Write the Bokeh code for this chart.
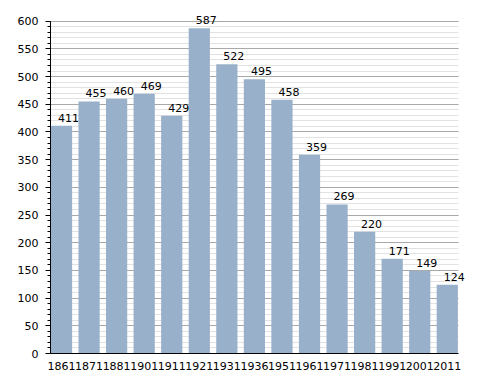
from bokeh.plotting import figure
from bokeh.models import ColumnDataSource, Range1d, FixedTicker, LabelSet, SingleIntervalTicker, Grid
from bokeh.core.properties import value
from bokeh.embed import file_html
from bokeh.resources import INLINE

years = ["1861", "1871", "1881", "1901", "1911", "1921", "1931", "1936",
         "1951", "1961", "1971", "1981", "1991", "2001", "2011"]
population = [411, 455, 460, 469, 429, 587, 522, 495, 458, 359, 269, 220, 171, 149, 124]

idx = list(range(len(years)))
src = ColumnDataSource(dict(x=idx, top=population, label=[str(v) for v in population]))

has_cb = "cross_bounds" in Grid.properties()
x_lo, x_hi = -0.4, len(years) - 0.6
x_end = x_hi + 0.37 if has_cb else x_hi

p = figure(width=488, height=373, output_backend="svg", toolbar_location=None,
           x_range=Range1d(x_lo, x_end), y_range=Range1d(0, 612),
           min_border_left=50, min_border_right=20 if has_cb else 30,
           min_border_top=14, min_border_bottom=20)
p.outline_line_color = None
p.background_fill_color = "white"
p.border_fill_color = "white"

p.vbar(x="x", top="top", width=0.77, source=src, color="#98b0c9", line_color=None)

labels = LabelSet(x="x", y="top", text="label", source=src, text_align="center",
                  text_baseline="bottom", x_offset=7 if has_cb else 1, y_offset=4,
                  text_font=value("DejaVu Sans"),
                  text_font_size=value("11px"), text_color=value("black"))
p.add_layout(labels)

# x axis
p.xaxis.ticker = FixedTicker(ticks=idx)
p.xaxis.bounds = (x_lo, x_hi)
p.xaxis.major_label_overrides = {i: y for i, y in enumerate(years)}
p.xaxis.major_tick_line_color = None
p.xaxis.minor_tick_line_color = None
p.xaxis.major_label_standoff = 2
p.xaxis.axis_line_color = "black"
p.xaxis.major_label_text_font = "DejaVu Sans"
p.xaxis.major_label_text_font_size = "11px"
p.xaxis.major_label_text_color = "black"
p.xgrid.grid_line_color = None

# y axis
p.yaxis.ticker = SingleIntervalTicker(interval=50, num_minor_ticks=5)
p.yaxis.bounds = (0, 600)
p.yaxis.axis_line_color = "black"
p.yaxis.major_tick_in = 0
p.yaxis.major_tick_out = 5
p.yaxis.minor_tick_in = 0
p.yaxis.minor_tick_out = 3
p.yaxis.major_tick_line_color = "black"
p.yaxis.minor_tick_line_color = "black"
p.yaxis.major_label_standoff = 7
p.yaxis.major_label_text_font = "DejaVu Sans"
p.yaxis.major_label_text_font_size = "11px"
p.yaxis.major_label_text_color = "black"
p.ygrid.bounds = (0, 600)
if has_cb:
    p.ygrid.cross_bounds = (x_lo, x_hi)
p.ygrid.grid_line_color = "#a8a8a8"
p.ygrid.minor_grid_line_color = "#e2e2e2"

open("out.html", "w").write(file_html(p, INLINE))
